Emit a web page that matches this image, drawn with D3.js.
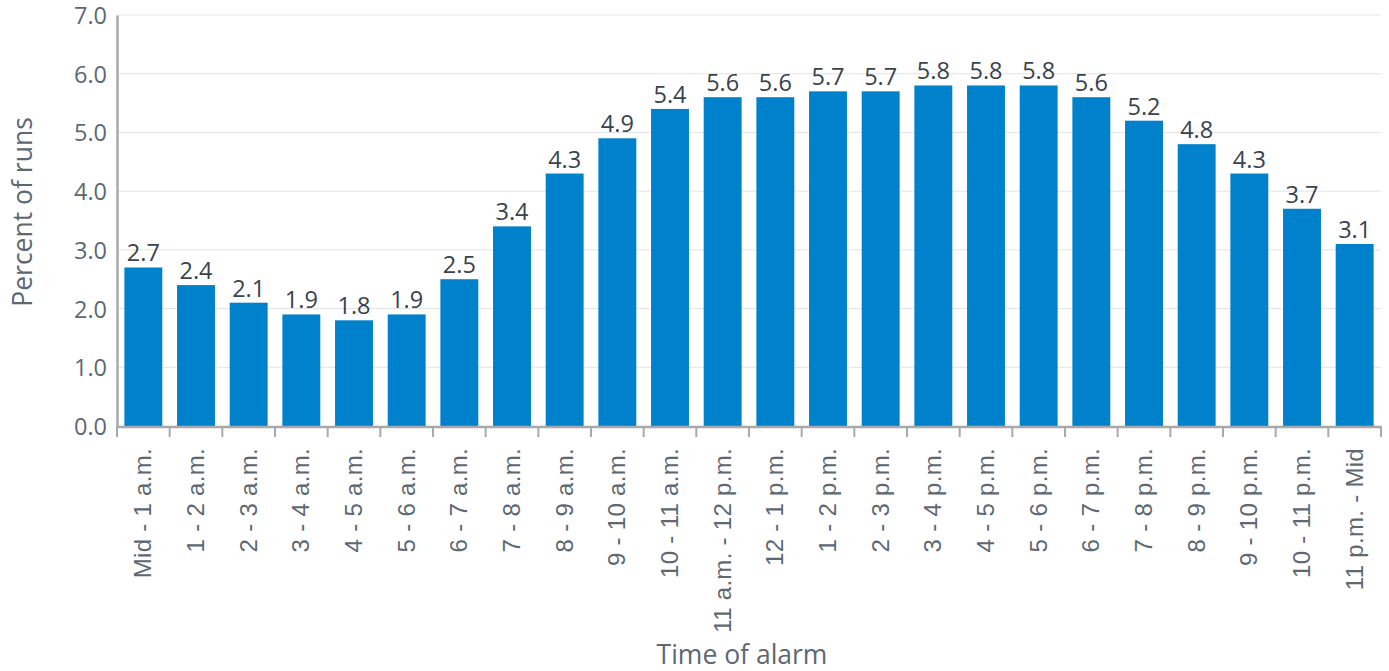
<!DOCTYPE html>
<html>
<head>
<meta charset="utf-8">
<script src="https://cdn.jsdelivr.net/npm/d3@7"></script>
<style>
  body { margin: 0; background: #fff; }
  svg { display: block; }
</style>
</head>
<body>
<div id="chart"></div>
<script>
// categories and values
var categories = ["Mid - 1 a.m.", "1 - 2 a.m.", "2 - 3 a.m.", "3 - 4 a.m.", "4 - 5 a.m.", "5 - 6 a.m.",
    "6 - 7 a.m.", "7 - 8 a.m.", "8 - 9 a.m.", "9 - 10 a.m.", "10 - 11 a.m.", "11 a.m. - 12 p.m.",
    "12 - 1 p.m.", "1 - 2 p.m.", "2 - 3 p.m.", "3 - 4 p.m.", "4 - 5 p.m.", "5 - 6 p.m.",
    "6 - 7 p.m.", "7 - 8 p.m.", "8 - 9 p.m.", "9 - 10 p.m.", "10 - 11 p.m.", "11 p.m. - Mid"];
var percents = [2.7, 2.4, 2.1, 1.9, 1.8, 1.9, 2.5, 3.4, 4.3, 4.9, 5.4, 5.6,
    5.6, 5.7, 5.7, 5.8, 5.8, 5.8, 5.6, 5.2, 4.8, 4.3, 3.7, 3.1];
var yTicks = [0, 1, 2, 3, 4, 5, 6, 7];

(function() {

    var dataset = categories.map(function(c, i) {
        return { "label": c, "value": percents[i] };
    });

    var w = 1389, h = 671;
    var plotLeft = 117, plotRight = 1381, plotTop = 15, plotBottom = 426;

    var xScale = d3.scaleBand()
        .domain(categories)
        .range([plotLeft, plotRight])
        .paddingInner(0.28)
        .paddingOuter(0.14);

    var yScale = d3.scaleLinear()
        .domain([0, 7])
        .range([plotBottom, plotTop]);

    var svg = d3.select("#chart").append("svg")
        .attr("width", w)
        .attr("height", h);

    var font = "'Open Sans', sans-serif";

    // grid lines
    svg.append("g").selectAll("line")
        .data(yTicks.slice(1))
        .enter().append("line")
        .attr("x1", plotLeft)
        .attr("x2", plotRight)
        .attr("y1", function(d) { return yScale(d); })
        .attr("y2", function(d) { return yScale(d); })
        .style("stroke", "#e1e3e5")
        .style("stroke-width", 1);

    // bars
    svg.append("g").selectAll("rect")
        .data(dataset)
        .enter().append("rect")
        .attr("x", function(d) { return xScale(d.label); })
        .attr("y", function(d) { return yScale(d.value); })
        .attr("width", xScale.bandwidth())
        .attr("height", function(d) { return plotBottom - yScale(d.value); })
        .attr("fill", "#0081cc");

    // value labels
    svg.append("g").selectAll("text")
        .data(dataset)
        .enter().append("text")
        .attr("x", function(d) { return xScale(d.label) + xScale.bandwidth() / 2; })
        .attr("y", function(d) { return yScale(d.value) - 6; })
        .attr("text-anchor", "middle")
        .style("font-family", font)
        .style("font-size", "23.5px")
        .style("fill", "#39434d")
        .text(function(d) { return d.value.toFixed(1); });

    // y axis
    var yAxis = svg.append("g")
        .attr("transform", "translate(" + plotLeft + ",0)")
        .call(d3.axisLeft(yScale).tickValues(yTicks).tickSize(0).tickPadding(10)
            .tickFormat(function(d) { return d.toFixed(1); }));
    yAxis.select(".domain").style("stroke", "#a7a9ab").style("stroke-width", 2.5);
    yAxis.selectAll("text")
        .style("font-family", font)
        .style("font-size", "23.5px")
        .style("fill", "#5d6873")
        .attr("dy", "0.36em");

    // x axis line and ticks
    var xAxis = svg.append("g");
    xAxis.append("line")
        .attr("x1", plotLeft)
        .attr("x2", plotRight)
        .attr("y1", plotBottom + 1)
        .attr("y2", plotBottom + 1)
        .style("stroke", "#a7a9ab")
        .style("stroke-width", 2.5);

    var boundaries = categories.map(function(c) {
        return xScale(c) - xScale.step() * xScale.paddingInner() / 2;
    });
    boundaries.push(plotRight);
    xAxis.selectAll(".tick")
        .data(boundaries)
        .enter().append("line")
        .attr("class", "tick")
        .attr("x1", function(d) { return d; })
        .attr("x2", function(d) { return d; })
        .attr("y1", plotBottom)
        .attr("y2", plotBottom + 11)
        .style("stroke", "#a7a9ab")
        .style("stroke-width", 2);

    // x category labels, rotated
    xAxis.selectAll("text")
        .data(dataset)
        .enter().append("text")
        .attr("transform", function(d) {
            return "translate(" + (xScale(d.label) + xScale.bandwidth() / 2 + 8) + ",448) rotate(-90)";
        })
        .attr("text-anchor", "end")
        .style("font-family", "'Liberation Sans', Arial, sans-serif")
        .style("font-size", "24px")
        .style("letter-spacing", "0.3px")
        .style("fill", "#5d6873")
        .text(function(d) { return d.label; });

    // axis titles
    svg.append("text")
        .attr("transform", "translate(32,212) rotate(-90)")
        .attr("text-anchor", "middle")
        .style("font-family", font)
        .style("font-size", "26.5px")
        .style("fill", "#5d6873")
        .text("Percent of runs");

    svg.append("text")
        .attr("x", 742)
        .attr("y", 664)
        .attr("text-anchor", "middle")
        .style("font-family", font)
        .style("font-size", "26.5px")
        .style("fill", "#5d6873")
        .text("Time of alarm");

})();
</script>
</body>
</html>
